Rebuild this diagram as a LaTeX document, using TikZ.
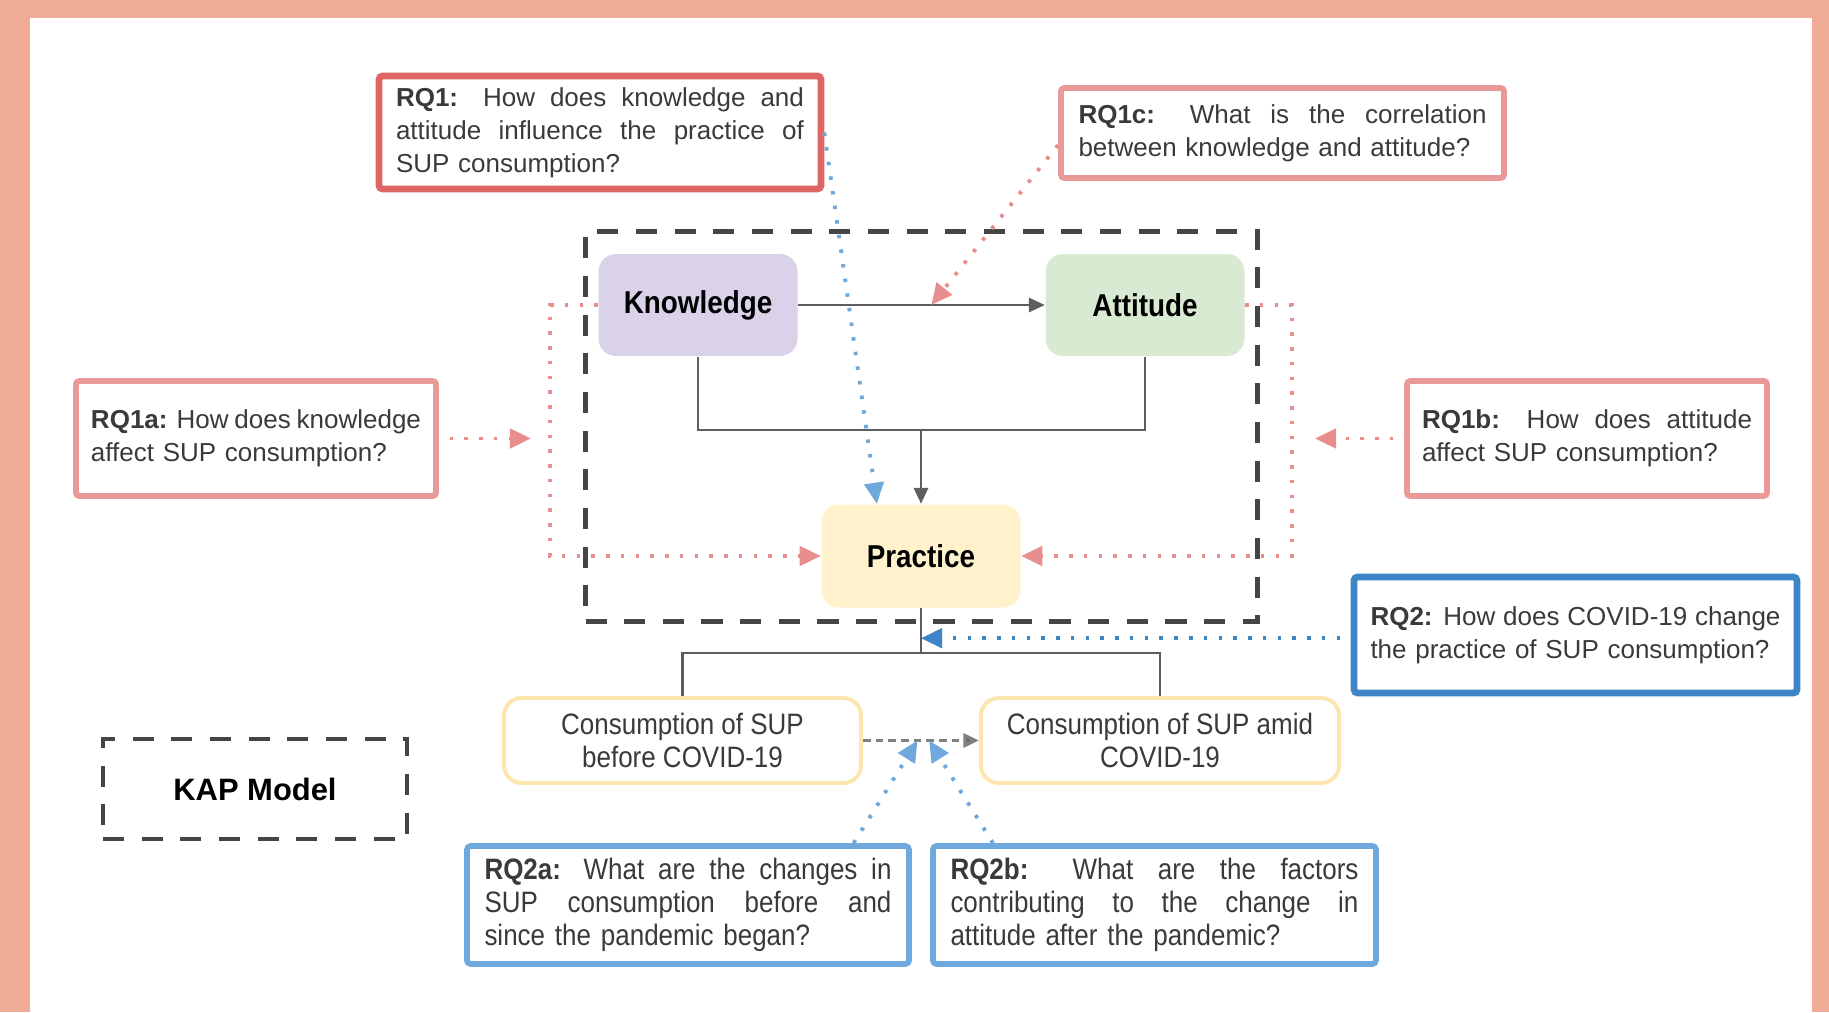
\documentclass[tikz,border=0pt]{standalone}
\usepackage{fontspec}
\setmainfont{Liberation Sans}
\newfontfamily\condfont[FakeStretch=0.88]{Liberation Sans}
\usetikzlibrary{arrows.meta,positioning,calc}
\definecolor{pagebg}{HTML}{F0AB96}
\definecolor{ink}{HTML}{3A3A3A}
\definecolor{linegray}{HTML}{5E5E5E}
\definecolor{framegray}{HTML}{454545}
\definecolor{knowfill}{HTML}{D9D2E9}
\definecolor{attfill}{HTML}{D9EAD3}
\definecolor{pracfill}{HTML}{FFF2CC}
\definecolor{covline}{HTML}{FCE6AE}
\definecolor{redline}{HTML}{E06666}
\definecolor{pinkline}{HTML}{EA9999}
\definecolor{pinkdot}{HTML}{E98E8E}
\definecolor{blueline}{HTML}{3D85C6}
\definecolor{lblueline}{HTML}{6FA8DC}
\newcommand{\jline}[1]{\makebox[\hsize][s]{\spaceskip=0pt\xspaceskip=0pt #1}}

\begin{document}
\begin{tikzpicture}[
  x=1cm, y=1cm,
  kapbox/.style={rounded corners=5pt, minimum width=1.99cm, minimum height=1.02cm,
    font=\condfont\bfseries\fontsize{9}{10}\selectfont, text=black},
  covbox/.style={draw=covline, line width=1.1pt, rounded corners=5pt,
    minimum width=3.57cm, minimum height=0.85cm, align=center, text=ink,
    font=\condfont\fontsize{8.4}{9.4}\selectfont},
  rqbox/.style={draw, line width=1.7pt, rounded corners=1pt, inner sep=2pt,
    align=left, text=ink, font=\fontsize{7.4}{9.4}\selectfont},
  rqcond/.style={rqbox, line width=1.6pt, font=\condfont\fontsize{8.4}{9.4}\selectfont},
  kapframe/.style={draw=framegray, line width=1.4pt, dash pattern=on 6pt off 5pt},
  conn/.style={draw=linegray, line width=0.75pt},
  flow/.style={conn, -{Triangle[length=4.5pt,width=4pt]}},
  gapflow/.style={draw=gray, line width=1pt, dash pattern=on 2.2pt off 1.4pt,
    -{Triangle[length=4.5pt,width=4pt,fill=linegray]}},
  qpink/.style={draw=pinkdot, line width=1.1pt, dash pattern=on 1pt off 3.2pt,
    -{Triangle[length=6pt,width=5.5pt]}},
  qblue/.style={qpink, draw=lblueline},
  qdblue/.style={qpink, draw=blueline}
]

%% ---------- page ----------
\fill[pagebg] (0,0) rectangle (18.29,10.12);
\fill[white] (0.30,0) rectangle (18.12,9.94);

%% ---------- KAP model ----------
\node[kapframe, minimum width=6.72cm, minimum height=3.90cm] (modelframe) at (9.215,5.855) {};
\node[kapbox, fill=knowfill] (know) at (6.98,7.07) {Knowledge};
\node[kapbox, fill=attfill] (att) at (11.45,7.07) {Attitude};
\node[kapbox, fill=pracfill, minimum height=1.03cm] (prac) at (9.21,4.56) {Practice};

\node[covbox] (before) at (6.825,2.715) {Consumption of SUP\\before COVID-19};
\node[covbox, minimum width=3.58cm] (amid) at (11.60,2.715) {Consumption of SUP amid\\COVID-19};

\node[kapframe, minimum width=3.04cm, minimum height=1.00cm,
  font=\bfseries\fontsize{8.8}{10}\selectfont, text=black] (kapnode) at (2.55,2.23) {KAP Model};

%% ---------- research questions ----------
\node[rqbox, draw=redline, line width=1.9pt, text width=4.08cm, minimum width=4.42cm,
  minimum height=1.13cm] (rq1) at (6.00,8.795)
  {\jline{\textbf{RQ1:} How does knowledge and}\\
   \jline{attitude influence the practice of}\\
   SUP consumption?};
\node[rqbox, draw=pinkline, text width=4.08cm, minimum width=4.43cm,
  minimum height=0.90cm] (rq1c) at (12.825,8.79)
  {\jline{\textbf{RQ1c:} What is the correlation}\\
   between knowledge and attitude?};
\node[rqbox, draw=pinkline, text width=3.30cm, minimum width=3.60cm,
  minimum height=1.15cm] (rq1a) at (2.56,5.735)
  {\jline{\textbf{RQ1a:} How does knowledge}\\
   affect SUP consumption?};
\node[rqbox, draw=pinkline, text width=3.30cm, minimum width=3.60cm,
  minimum height=1.15cm] (rq1b) at (15.87,5.735)
  {\jline{\textbf{RQ1b:} How does attitude}\\
   affect SUP consumption?};
\node[rqbox, draw=blueline, line width=1.9pt, text width=4.10cm, minimum width=4.43cm,
  minimum height=1.16cm] (rq2) at (15.755,3.77)
  {\jline{\textbf{RQ2:} How does COVID-19 change}\\
   the practice of SUP consumption?};
\node[rqcond, draw=lblueline, text width=4.07cm, minimum width=4.42cm,
  minimum height=1.18cm] (rq2a) at (6.88,1.07)
  {\jline{\textbf{RQ2a:} What are the changes in}\\
   \jline{SUP consumption before and}\\
   since the pandemic began?};
\node[rqcond, draw=lblueline, text width=4.08cm, minimum width=4.43cm,
  minimum height=1.18cm] (rq2b) at (11.545,1.07)
  {\jline{\textbf{RQ2b:} What are the factors}\\
   \jline{contributing to the change in}\\
   attitude after the pandemic?};

%% ---------- model flow ----------
\coordinate (kpjoin) at (9.21,5.82);
\coordinate (psplit) at (9.21,3.59);
\draw[flow] (know) -- (att);
\draw[conn] (know.south) |- (kpjoin) -| (att.south);
\draw[flow] (kpjoin) -- (prac.north);
\draw[conn] (prac.south) -- (psplit);
\draw[conn] (before.north) |- (psplit) -| (amid.north);
\draw[gapflow] (before.east) -- (amid.west);

%% ---------- question pointers ----------
\coordinate (rq1Tip) at ($(prac.north west)!0.28!(prac.north east)$);
\coordinate (rq1cTip) at ($(know.east)!0.54!(att.west)$);
\coordinate (rq1aTip) at (5.31,5.735);
\coordinate (rq1bTip) at (13.15,5.735);
\coordinate (rq2Tip) at ($(prac.south)!0.67!(psplit)$);
\coordinate (gapL) at ($(before.east)!0.47!(amid.west)$);
\coordinate (gapR) at ($(before.east)!0.57!(amid.west)$);

\draw[qblue] (rq1.east) -- (rq1Tip);
\draw[qpink] ($(rq1c.west)+(0,-0.12)$) -- (rq1cTip);
\draw[qpink, shorten <=3pt] (rq1a.east) -- (rq1aTip);
\draw[qpink, shorten <=3pt] (rq1b.west) -- (rq1bTip);
\draw[qpink] (know.west) -- ++(-0.475,0) |- (prac.west);
\draw[qpink] (att.east) -- ++(0.465,0) |- (prac.east);
\draw[qdblue, shorten <=3pt] (rq2.west |- rq2Tip) -- (rq2Tip);
\draw[qblue] ($(rq2a.north west)!0.87!(rq2a.north east)$) -- (gapL);
\draw[qblue] ($(rq2b.north west)!0.14!(rq2b.north east)$) -- (gapR);

\end{tikzpicture}
\end{document}
